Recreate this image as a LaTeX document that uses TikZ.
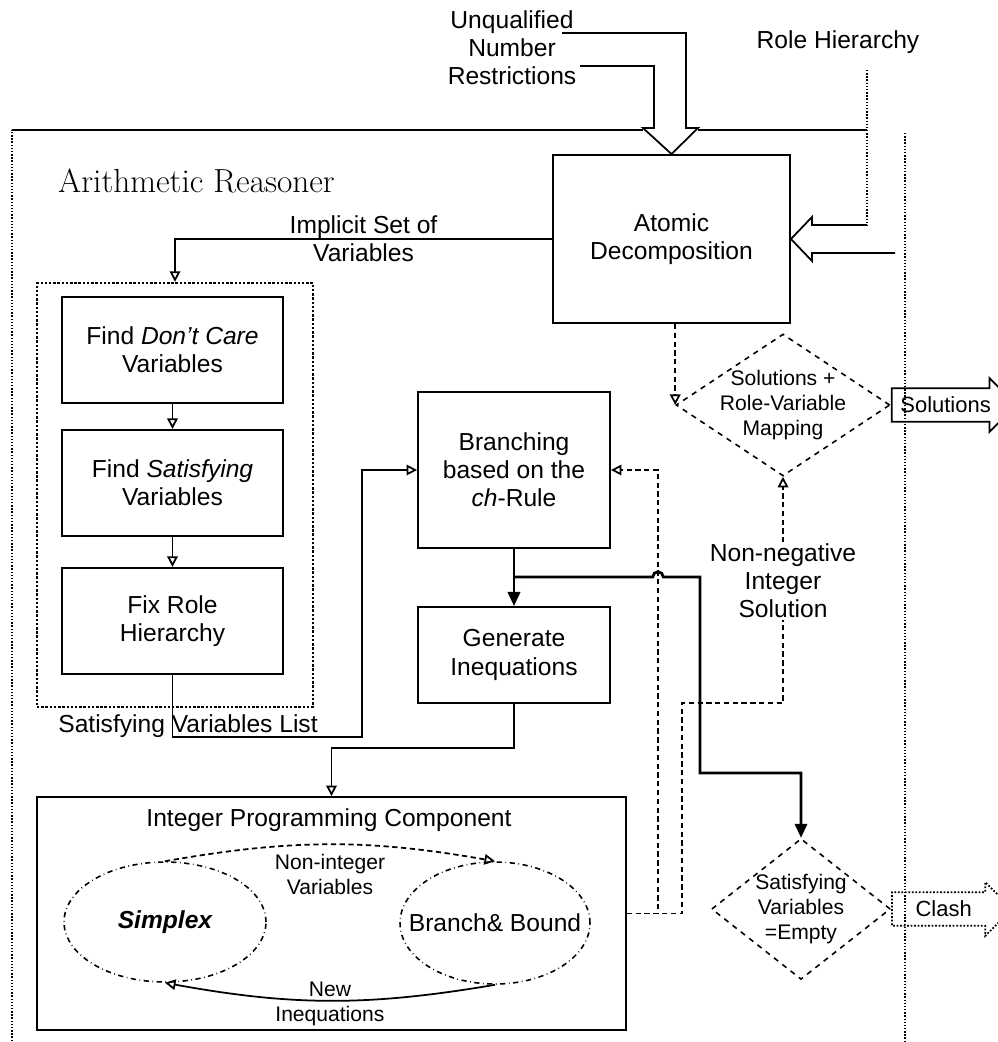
\documentclass[tikz,border=0pt]{standalone}
\usepackage{fontspec}
\setsansfont{Liberation Sans}
\usepackage{tikz}
\usetikzlibrary{
    shapes.geometric, shapes.arrows,
    arrows.meta, positioning, calc
}
\tikzset{
  box/.style={rectangle, draw, line width=1.1pt, align=center,
              font=\sffamily\fontsize{14}{16}\selectfont},
  listbox/.style={rectangle, draw, densely dotted, line width=1.4pt},
  rframe/.style={densely dotted, line width=0.8pt},
  decision/.style={diamond, draw, dashed, line width=0.9pt, align=center,
                   inner sep=0pt, font=\sffamily\fontsize{12}{14}\selectfont},
  solver/.style={ellipse, draw, dash dot, line width=0.9pt},
  lbl/.style={align=center, font=\sffamily\fontsize{14}{16}\selectfont},
  slbl/.style={align=center, font=\sffamily\fontsize{12}{14}\selectfont},
  arr/.style={-{Triangle[open, length=6pt, width=6pt]}, line width=1pt},
  thickarr/.style={-{Triangle[length=8pt, width=7pt]}, line width=1.6pt},
  blockarr/.style={draw, line width=1pt, line join=miter},
  outarr/.style={single arrow, draw, line width=1pt,
                 single arrow head extend=0.2cm, minimum height=2.4cm,
                 inner sep=4.5pt, anchor=tail,
                 font=\sffamily\fontsize{12.5}{14}\selectfont},
}

\begin{document}
\begin{tikzpicture}[x=0.02cm, y=-0.02cm]
  \useasboundingbox (0,0) rectangle (998,1042);

  % frame of the reasoner
  \draw[rframe] (12,1060) -- (12,130);
  \draw[line width=0.8pt] (12,130) -- (643,130) (698,130) -- (867,130);
  \draw[rframe] (905,133) -- (905,1060);
  \node[anchor=west, font=\fontsize{19}{22}\selectfont] (title) at (52,181) {Arithmetic Reasoner};

  % inputs
  \node[lbl] (unq) at (512,48) {Unqualified\\Number\\Restrictions};
  \node[lbl] (role) at (838,42) {Role Hierarchy};

  \node[box, minimum width=4.74cm, minimum height=3.36cm] (ad) at (671.5,239) {Atomic\\Decomposition};

  \draw[blockarr] (562,33) -- (686,33) -- (686,128) -- (698,128) -- (ad.north)
    -- (643,128) -- (654,128) -- (654,66) -- (580,66);
  \draw[rframe] (867,70) -- (867,225);
  \draw[blockarr] (867,225) -- (812,225) -- (812,217) -- (ad.east)
    -- (812,261) -- (812,253) -- (895,253);

  % variable preprocessing
  \node[listbox, minimum width=5.52cm, minimum height=8.48cm] (list) at (175,495) {};
  \node[box, minimum width=4.42cm, minimum height=2.12cm] (dcare) at (172.5,350)
    {Find \textit{Don't Care}\\Variables};
  \node[box, minimum width=4.42cm, minimum height=2.12cm, below=0.5cm of dcare] (satvar)
    {Find \textit{Satisfying}\\Variables};
  \node[box, minimum width=4.42cm, minimum height=2.12cm, below=0.6cm of satvar] (fixrole)
    {Fix Role\\Hierarchy};

  \draw[arr] (ad.west) -| node[lbl, pos=0.25] {Implicit Set of\\Variables} (list.north);
  \draw[arr] (dcare) -- (satvar);
  \draw[arr] (satvar) -- (fixrole);

  % branching
  \node[box, minimum width=3.84cm, minimum height=3.12cm] (branch) at (514,470)
    {Branching\\based on the\\\textit{ch}-Rule};
  \node[box, minimum width=3.84cm, minimum height=1.92cm] (gen) at (514,655)
    {Generate\\Inequations};

  \coordinate (svl) at (362,737);
  \draw[arr] (fixrole.south) |- (svl) |- (branch.west);
  \node[lbl] (svltext) at (188,726) {Satisfying Variables List};

  \draw[thickarr] (branch) -- (gen);

  % integer programming
  \node[box, minimum width=11.78cm, minimum height=4.66cm] (ip) at (331.5,913.5) {};
  \node[lbl] (iptitle) at (329,820) {Integer Programming Component};
  \node[solver, minimum width=4.04cm, minimum height=2.4cm,
        label={[lbl, font=\sffamily\bfseries\itshape\fontsize{14}{16}\selectfont]center:Simplex}]
        (simplex) at (165,922) {};
  \node[solver, minimum width=3.8cm, minimum height=2.44cm,
        label={[lbl]center:Branch\& Bound}] (bb) at (495,923) {};

  \draw[arr, densely dashed] (simplex.north) to[bend left=10]
    node[slbl, midway, below=2pt] {Non-integer\\Variables} (bb.north);
  \draw[arr] (bb.south) to[bend left=10]
    node[slbl, midway, yshift=-2pt] {New\\Inequations} (simplex.south);

  \draw[arr] (gen.south) -- ++(0,44) -| (ip.north);

  % decisions
  \node[decision, aspect=1.5, inner sep=-2pt, minimum width=4.28cm, minimum height=2.84cm]
    (soldiam) at (783,405) {Solutions +\\Role-Variable\\Mapping};
  \node[decision, aspect=1.27, minimum width=3.5cm, minimum height=2.76cm]
    (satdiam) at (801,909) {Satisfying\\Variables\\=Empty};

  \node[outarr] (solout) at (soldiam.east) {Solutions};
  \node[outarr, densely dotted] (clash) at (satdiam.east) {Clash};

  \draw[arr, densely dashed] (ad.south -| soldiam.west) -- (soldiam.west);

  \coordinate (split) at (514,577);
  \coordinate (hop) at (658,577);
  \coordinate (down) at (700,773);
  \draw[thickarr] (split) -- ([xshift=-3pt]hop) arc[start angle=180, end angle=0, radius=3pt]
    -| (down) -| (satdiam.north);

  \coordinate (fb1) at (658,470);
  \coordinate (fb2) at (682,703);
  \draw[arr, densely dashed] (ip.east) -| (fb1) -- (branch.east);
  \draw[arr, densely dashed] (ip.east) -| (fb2) -|
    node[lbl, pos=0.77, fill=white, inner sep=1pt] {Non-negative\\Integer\\Solution}
    (soldiam.south);

\end{tikzpicture}
\end{document}
